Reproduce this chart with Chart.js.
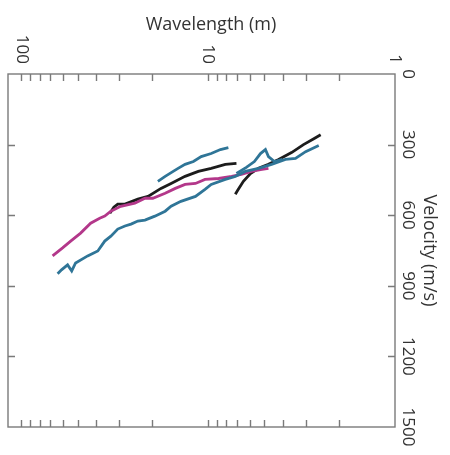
<!DOCTYPE html>
<html>
<head>
<meta charset="utf-8">
<script src="https://cdn.jsdelivr.net/npm/chart.js@4.4.1/dist/chart.umd.min.js"></script>
<style>
  html, body { margin: 0; padding: 0; background: #fff; }
  #wrap { width: 450px; height: 455px; }
</style>
</head>
<body>
<div id="wrap"><canvas id="dispChart"></canvas></div>
<script>
// wavelength (m) / velocity (m/s)
const magentaWl = [68.1, 60.2, 54.5, 48.2, 42.6, 38.1, 35.8, 33.2, 29.4, 24.7, 21.8, 19.8, 17.0, 15.0, 13.3, 11.7, 10.4, 8.8, 7.5, 6.65, 5.87, 5.25, 4.76];
const magentaVel = [773, 739, 710, 676, 634, 613, 604, 583, 562, 549, 528, 528, 507, 486, 469, 465, 448, 444, 435, 427, 414, 406, 401];

const tealAWl = [64.0, 61.0, 56.6, 53.8, 51.3, 44.2, 39.0, 35.8, 33.2, 30.5, 27.9, 25.9, 23.8, 21.8, 19.3, 17.0, 15.8, 14.0, 11.7, 10.4, 9.64, 8.1, 7.16, 6.33, 5.38, 4.58, 3.86, 3.41, 3.01, 2.56];
const tealAVel = [849, 832, 811, 837, 803, 773, 752, 710, 689, 659, 646, 638, 625, 621, 604, 583, 562, 541, 520, 490, 469, 448, 435, 414, 401, 384, 363, 359, 330, 304];

const tealBWl = [18.6, 17.0, 15.4, 14.5, 13.3, 12.0, 10.9, 9.64, 8.6, 7.8];
const tealBVel = [456, 435, 414, 401, 384, 372, 351, 338, 321, 313];

const tealCWl = [7.06, 6.25, 5.66, 5.25, 4.94, 4.76, 4.42, 4.00];
const tealCVel = [423, 397, 372, 338, 321, 351, 372, 363];

const blackAWl = [33.6, 32.0, 30.5, 27.9, 23.8, 21.0, 17.9, 15.8, 13.3, 11.3, 9.64, 8.1, 7.06];
const blackAVel = [592, 566, 553, 553, 532, 520, 486, 465, 435, 414, 401, 384, 380];

const blackBWl = [7.16, 6.9, 6.48, 5.94, 5.38, 4.76, 4.2, 3.58, 3.09, 2.72, 2.5];
const blackBVel = [511, 490, 456, 423, 401, 384, 363, 334, 300, 275, 258];

const wlLabels = [100, 10, 1];
const velLabels = [0, 300, 600, 900, 1200, 1500];

const TEAL = "#2f7597";
const MAGENTA = "#b3378a";
const BLACK = "#1c1c1c";

function pts(wl, vel) {
    return wl.map(function (w, i) { return { x: w, y: vel[i] }; });
}

function line(wl, vel, color) {
    return {
        data: pts(wl, vel),
        borderColor: color,
        borderWidth: 2.8,
        pointRadius: 0,
        tension: 0,
        fill: false
    };
}

const frameAndLabels = {
    id: "frameAndLabels",
    afterDraw: function (chart) {
        const c = chart.ctx;
        const a = chart.chartArea;
        const xs = chart.scales.x;
        const ys = chart.scales.y;
        c.save();
        c.strokeStyle = "#7a7a7a";
        c.lineWidth = 1.4;
        c.strokeRect(a.left, a.top, a.right - a.left, a.bottom - a.top);

        // log ticks, inward at top and bottom
        c.beginPath();
        xs.ticks.forEach(function (t) {
            const v = t.value;
            if (v > 100) return;
            const m = v / Math.pow(10, Math.floor(Math.log10(v) + 1e-9));
            if (Math.abs(m - Math.round(m)) > 1e-6) return;
            if (v === 1) return;
            const px = Math.round(xs.getPixelForValue(v)) + 0.5;
            c.moveTo(px, a.top);
            c.lineTo(px, a.top + 7);
            c.moveTo(px, a.bottom);
            c.lineTo(px, a.bottom - 7);
        });
        // velocity ticks, inward at left and right
        ys.ticks.forEach(function (t) {
            if (t.value === 0 || t.value === 1500) return;
            const py = Math.round(ys.getPixelForValue(t.value)) + 0.5;
            c.moveTo(a.left, py);
            c.lineTo(a.left + 7, py);
            c.moveTo(a.right, py);
            c.lineTo(a.right - 7, py);
        });
        c.stroke();

        c.fillStyle = "#333";
        c.font = "17px 'Open Sans', sans-serif";
        // top labels, rotated clockwise
        wlLabels.forEach(function (v) {
            const px = xs.getPixelForValue(v);
            c.save();
            c.translate(px, a.top - 10);
            c.rotate(Math.PI / 2);
            c.textAlign = "right";
            c.textBaseline = "middle";
            c.fillText(String(v), 0, 0);
            c.restore();
        });
        // right labels, rotated clockwise
        velLabels.forEach(function (v) {
            const py = ys.getPixelForValue(v);
            c.save();
            c.translate(a.right + 13, py);
            c.rotate(Math.PI / 2);
            c.textAlign = "center";
            c.textBaseline = "middle";
            c.fillText(String(v), 0, 0);
            c.restore();
        });

        c.font = "18px 'Open Sans', sans-serif";
        c.textAlign = "center";
        c.textBaseline = "middle";
        c.fillText("Wavelength (m)", 211, 25);

        c.save();
        c.translate(a.right + 34, (a.top + a.bottom) / 2);
        c.rotate(Math.PI / 2);
        c.fillText("Velocity (m/s)", 0, 0);
        c.restore();
        c.restore();
    }
};

document.addEventListener("DOMContentLoaded", function () {
    const ctx = document.getElementById("dispChart");

    new Chart(ctx, {
        type: "line",
        data: {
            datasets: [
                line(tealAWl, tealAVel, TEAL),
                line(tealBWl, tealBVel, TEAL),
                line(magentaWl, magentaVel, MAGENTA),
                line(blackAWl, blackAVel, BLACK),
                line(tealCWl, tealCVel, TEAL),
                line(blackBWl, blackBVel, BLACK)
            ]
        },
        options: {
            responsive: true,
            maintainAspectRatio: false,
            animation: false,
            layout: { padding: { left: 8, right: 0, top: 0, bottom: 28 } },
            plugins: {
                legend: { display: false },
                tooltip: { enabled: false }
            },
            scales: {
                x: {
                    type: "logarithmic",
                    position: "top",
                    reverse: true,
                    min: 1,
                    max: 118,
                    grid: { display: false },
                    border: { display: false },
                    ticks: { display: false },
                    afterFit: function (s) { s.height = 74; }
                },
                y: {
                    type: "linear",
                    position: "right",
                    reverse: true,
                    min: 0,
                    max: 1500,
                    grid: { display: false },
                    border: { display: false },
                    ticks: { display: false, stepSize: 300 },
                    afterFit: function (s) { s.width = 55; }
                }
            }
        },
        plugins: [frameAndLabels]
    });
});
</script>
</body>
</html>
